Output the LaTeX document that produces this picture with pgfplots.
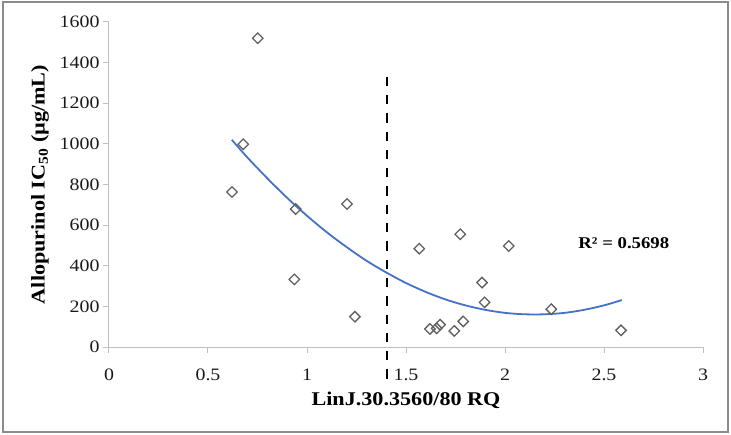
\documentclass[border=0pt]{standalone}
\usepackage{fontspec}
\setmainfont{Liberation Serif}[FakeStretch=1.14]
\usepackage{pgfplots}
\pgfplotsset{compat=1.18}
\definecolor{trendblue}{HTML}{4472C4}
\definecolor{markgray}{HTML}{606060}
\definecolor{axisgray}{HTML}{BFBFBF}
\definecolor{framegray}{HTML}{8C8C8C}

\begin{document}
\begin{tikzpicture}
\useasboundingbox (-109bp,-88bp) rectangle (622bp,347bp);
\draw[framegray, line width=2bp] (-106bp,-85bp) rectangle (619bp,345bp);
\begin{axis}[
    scale only axis,
    width=594bp, height=325bp,
    xmin=0, xmax=3, ymin=0, ymax=1600,
    axis x line=bottom, axis y line=left,
    axis line style={axisgray, line width=1bp, -},
    xtick={0,0.5,1,1.5,2,2.5,3},
    ytick={0,200,400,600,800,1000,1200,1400,1600},
    tick align=outside, major tick length=6bp,
    tick style={axisgray, line width=1bp},
    /pgf/number format/1000 sep={},
    /pgf/number format/assume math mode=true,
    tick label style={font=\fontsize{17.5}{19}\selectfont, text=black!90},
    xticklabel style={anchor=base, yshift=-27bp},
    xlabel={LinJ.30.3560/80 RQ},
    xlabel style={at={(axis description cs:0.5,0)}, anchor=base, yshift=-58bp,
        font=\fontsize{19.5}{22}\selectfont\bfseries},
    ylabel={Allopurinol IC\textsubscript{50} (µg/mL)},
    ylabel style={at={(axis description cs:-0.116,0.5)}, anchor=center,
        font=\fontsize{19.5}{22}\selectfont\bfseries},
    clip=false,
]
% measured points
\addplot[only marks, mark=square, mark size=3.7bp,
    mark options={rotate=45, draw=markgray, fill=white, line width=1.3bp}]
coordinates {
    (0.751,1520) (0.678,998) (0.621,763) (0.943,679) (1.202,704)
    (0.936,333) (1.242,149) (1.567,484) (1.774,555) (2.019,497)
    (1.884,317) (1.897,220) (2.234,186) (1.621,89) (1.655,92)
    (1.672,110) (1.744,79) (1.789,126) (2.586,82)
};
% polynomial trend line
\addplot[trendblue, line width=1.8bp, smooth] coordinates {
    (0.62,1020) (0.7,932) (0.8,830) (0.9,734) (1.0,646) (1.1,565)
    (1.2,492) (1.3,425) (1.4,367) (1.5,315) (1.6,271) (1.7,234)
    (1.8,205) (1.9,183) (2.0,168) (2.1,161) (2.2,161) (2.3,168)
    (2.4,183) (2.5,205) (2.59,231)
};
% cut-off
\addplot[black, line width=2.8bp, dash pattern=on 9.3bp off 9bp]
    coordinates {(1.404,1331) (1.404,-177)};
\node[anchor=west, inner sep=0pt, font=\fontsize{16.5}{18}\selectfont\bfseries]
    at (axis cs:2.37,512) {R² = 0.5698};
\end{axis}
\end{tikzpicture}
\end{document}
